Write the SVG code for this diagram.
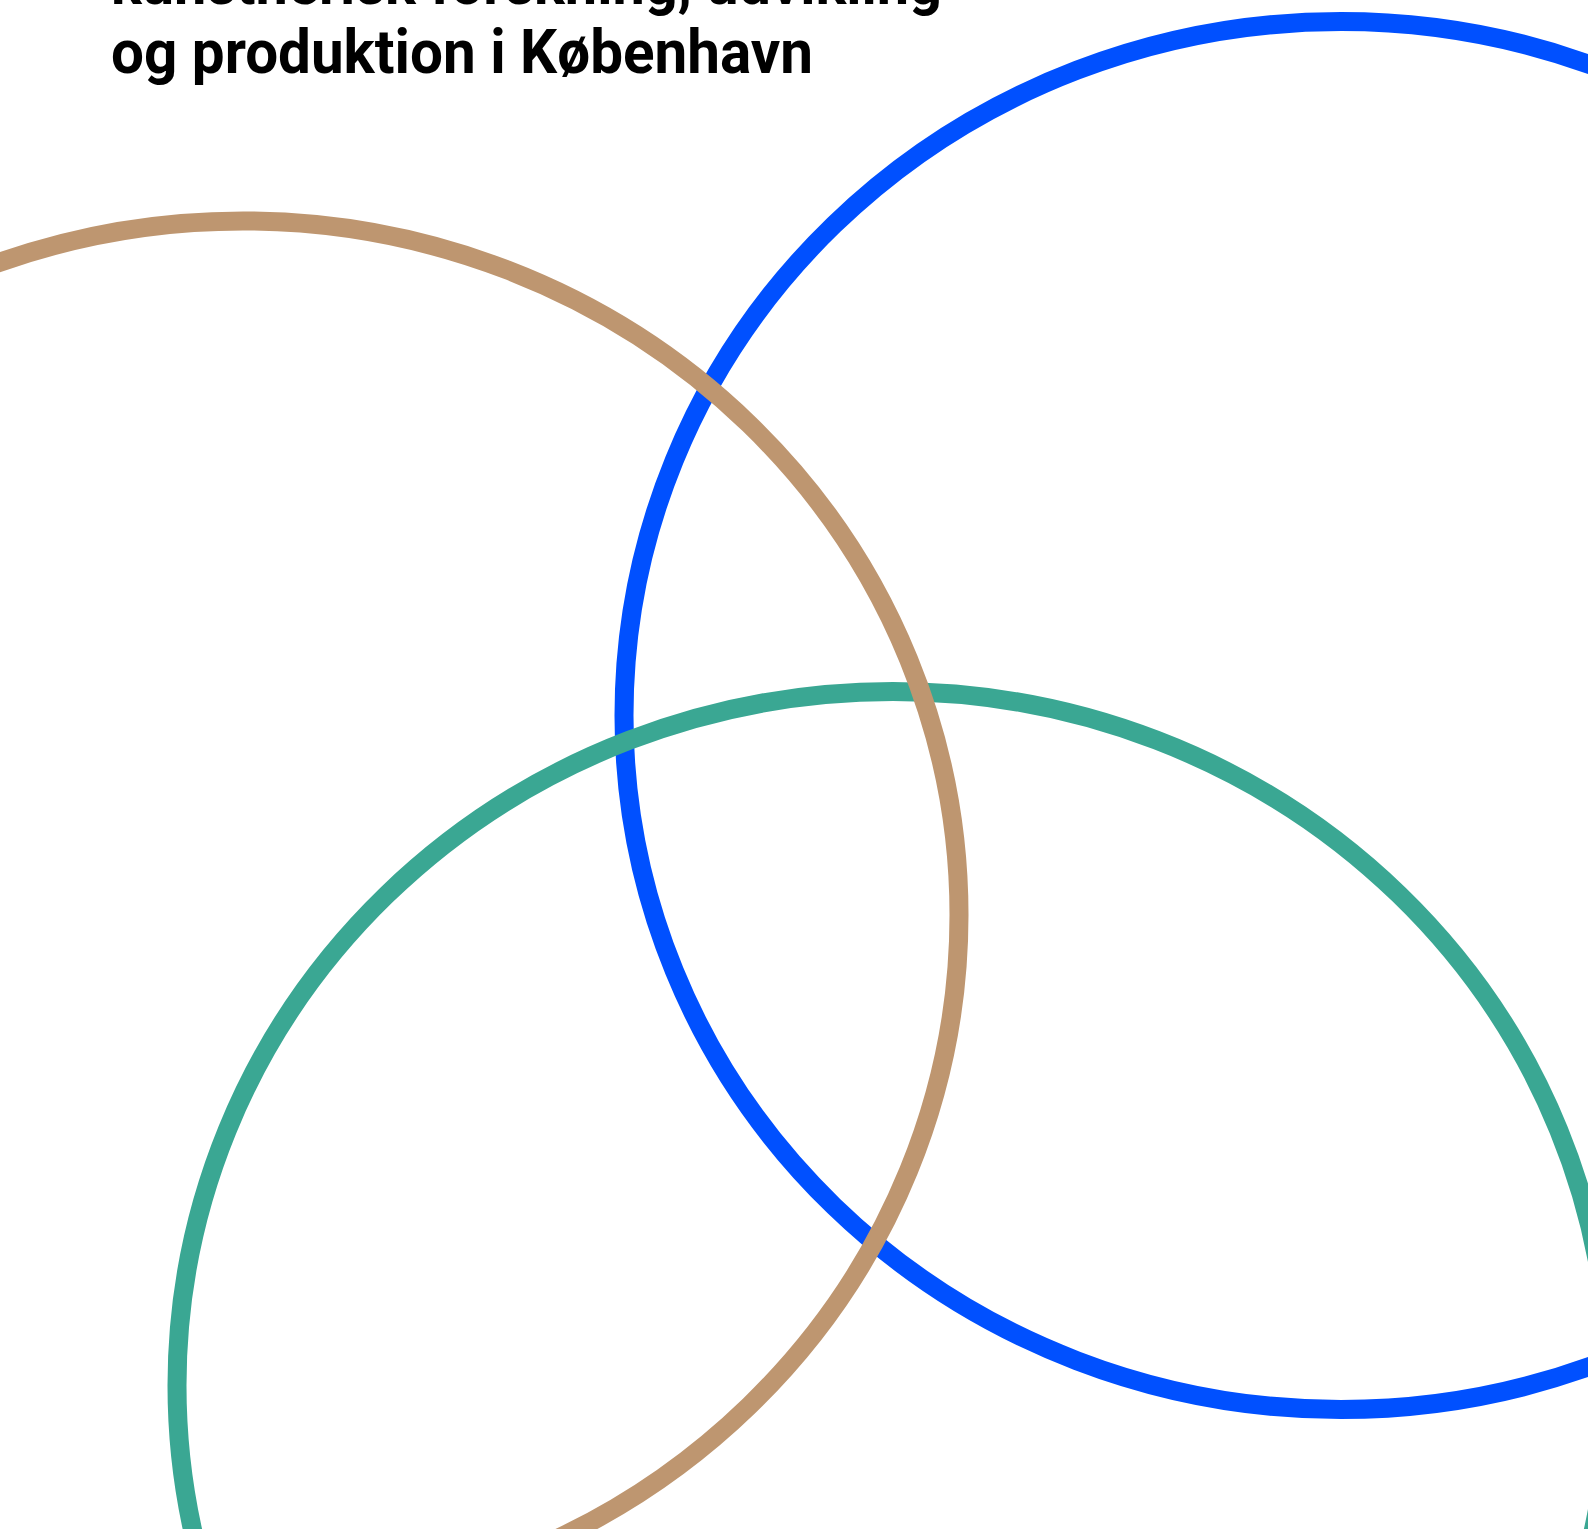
<svg xmlns="http://www.w3.org/2000/svg" width="1588" height="1529" viewBox="0 0 1588 1529">
  <style>
    .ring { fill: none; stroke-width: 19; }
    .blue { stroke: #0050FF; }
    .green { stroke: #3AA793; }
    .tan { stroke: #BE9670; }
    .title { font-family: Roboto, "Liberation Sans", sans-serif; font-weight: 700; font-size: 61px; fill: #000; }
  </style>
  <rect width="1588" height="1529" fill="#fff"/>
  <g id="title">
    <text class="title" x="111" y="4" textLength="831" lengthAdjust="spacingAndGlyphs">kunstnerisk forskning, udvikling</text>
    <text class="title" x="111" y="73" textLength="702" lengthAdjust="spacingAndGlyphs">og produktion i København</text>
  </g>
  <g id="ring-blue">
    <ellipse class="ring blue" cx="1341" cy="715.5" rx="717" ry="694"/>
  </g>
  <g id="ring-green">
    <ellipse class="ring green" cx="893" cy="1385.5" rx="716" ry="694"/>
  </g>
  <g id="ring-tan">
    <ellipse class="ring tan" cx="243" cy="915" rx="716" ry="694"/>
  </g>
</svg>
